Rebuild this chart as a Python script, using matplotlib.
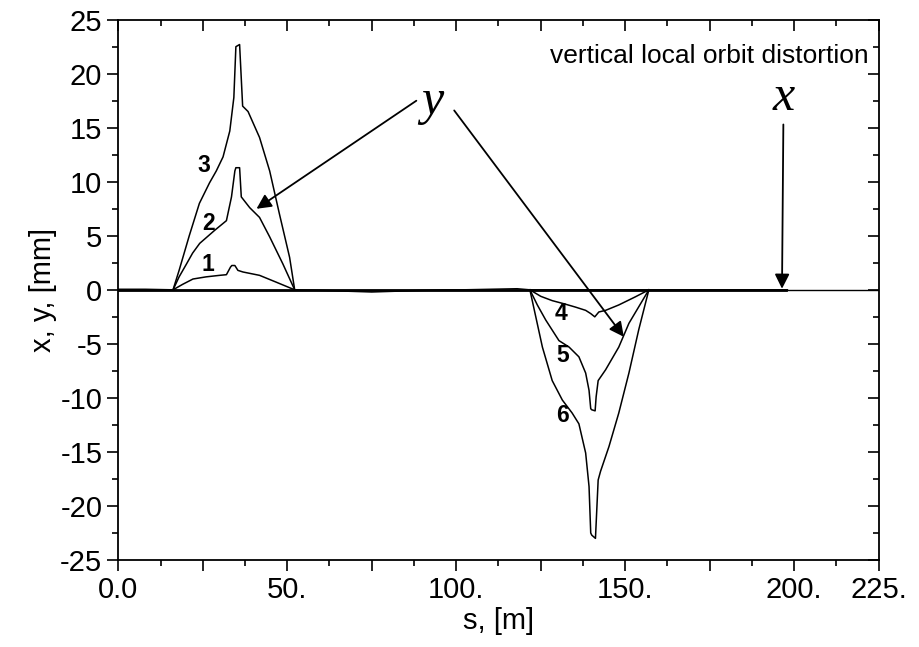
import matplotlib
matplotlib.use("Agg")
import matplotlib.pyplot as plt
from matplotlib.ticker import FixedLocator, FixedFormatter, MultipleLocator

plt.rcParams['font.family'] = ['Liberation Sans', 'DejaVu Sans']

# curve 1..3 (positive bumps)
s1 = [0, 8, 16.2, 19, 22.1, 26, 30, 32, 33.2, 33.6, 34.5, 35.4, 36.9, 41.8, 46.8, 52.2, 60, 75, 90, 97, 102, 110, 118, 121.8, 130, 160, 198]
y1 = [0.05, 0.05, 0.0, 0.5, 1.0, 1.2, 1.34, 1.4, 2.1, 2.25, 2.25, 1.8, 1.65, 1.34, 0.7, 0.0, -0.05, -0.2, -0.05, 0.0, 0.0, 0.05, 0.1, 0.0, 0.0, 0.0, 0.0]

s2 = [16.2, 18, 20.2, 22, 24.1, 28.5, 32, 33.5, 34.5, 34.8, 35.9, 36.4, 38.9, 41.8, 44.8, 48.7, 52.2]
y2 = [0.0, 1.2, 2.4, 3.4, 4.3, 5.5, 6.4, 8.6, 11.0, 11.3, 11.3, 8.6, 7.6, 6.7, 4.9, 2.4, 0.0]

s3 = [16.2, 18, 21, 24, 27, 29, 31, 33, 34.2, 34.8, 35.9, 36.8, 38.4, 41.8, 44.8, 47.7, 50.7, 52.2]
y3 = [0.0, 1.8, 5.0, 8.0, 9.9, 11.0, 12.3, 14.7, 17.8, 22.5, 22.7, 17.0, 16.5, 14.1, 11.0, 7.0, 3.0, 0.0]

# curve 4..6 (negative bumps)
s4 = [121.8, 125, 128.4, 132, 135.3, 138.3, 139.8, 141.0, 142.2, 144.2, 148.1, 153, 157]
y4 = [0.0, -0.6, -1.0, -1.3, -1.6, -1.9, -2.2, -2.5, -2.05, -1.9, -1.4, -0.65, 0.0]

s5 = [121.8, 124, 126.5, 130.4, 133.4, 136.3, 138.3, 139.3, 139.8, 140.1, 141.1, 141.4, 142, 144.2, 148.1, 151.1, 157]
y5 = [0.0, -1.4, -2.8, -4.7, -5.3, -6.2, -7.7, -9.3, -11.0, -11.1, -11.2, -9.9, -8.4, -7.4, -5.3, -3.1, 0.0]

s6 = [121.8, 125.5, 128.4, 131.4, 134.3, 136.3, 138.3, 139.3, 139.8, 140.1, 141.2, 142, 142.7, 145.2, 148.1, 151.1, 154, 157]
y6 = [0.0, -5.3, -8.4, -10.2, -11.4, -12.4, -15.1, -18.2, -22.5, -22.7, -23.0, -17.6, -16.8, -14.5, -11.4, -7.7, -3.7, 0.0]

# horizontal orbit (x)
sx = [0, 50, 100, 150, 197.7]
yx = [0.0, 0.0, 0.0, 0.0, 0.0]

xtick_pos = [0, 25, 50, 75, 100, 125, 150, 175, 200, 225]
xtick_lab = ['0.0', '', '50.', '', '100.', '', '150.', '', '200.', '225.']
ytick_pos = [25, 20, 15, 10, 5, 0, -5, -10, -15, -20, -25]
ytick_lab = ['25', '20', '15', '10', '5', '0', '-5', '-10', '-15', '-20', '-25']

curve_labels = ['1', '2', '3', '4', '5', '6']
label_s = [26.6, 26.6, 25.4, 130.9, 131.4, 131.4]
label_y = [2.3, 6.1, 11.5, -2.2, -6.1, -11.6]

fig = plt.figure(figsize=(9.19, 6.47), dpi=100)
ax = fig.add_axes([0.1287, 0.1345, 0.8274, 0.8351])

ax.axhline(0, color='black', lw=1.0, zorder=1)
ax.plot(sx, yx, color='black', lw=2.0, zorder=2)
for s, y in [(s1, y1), (s2, y2), (s3, y3), (s4, y4), (s5, y5), (s6, y6)]:
    ax.plot(s, y, color='black', lw=1.1, zorder=3)

for t, xs, ys in zip(curve_labels, label_s, label_y):
    ax.text(xs, ys, t, fontsize=16.5, fontweight='bold', ha='center', va='center')

ax.text(222, 21.6, 'vertical local orbit distortion', fontsize=19, ha='right', va='center')

ax.text(93.0, 17.4, 'y', fontsize=36, family=['Liberation Serif'], style='italic', ha='center', va='center')
ax.text(197.0, 17.8, 'x', fontsize=36, family=['Liberation Serif'], style='italic', ha='center', va='center')

aprops = dict(arrowstyle='-|>', color='black', lw=1.3, mutation_scale=22, shrinkA=0, shrinkB=0)
ax.annotate('', xy=(40.9, 7.5), xytext=(88.2, 17.5), arrowprops=aprops)
ax.annotate('', xy=(149.6, -4.35), xytext=(99.4, 16.6), arrowprops=aprops)
ax.annotate('', xy=(196.4, 0.1), xytext=(196.8, 15.3), arrowprops=aprops)

ax.set_xlim(0, 225)
ax.set_ylim(-25, 25)
ax.xaxis.set_major_locator(FixedLocator(xtick_pos))
ax.xaxis.set_major_formatter(FixedFormatter(xtick_lab))
ax.xaxis.set_minor_locator(MultipleLocator(12.5))
ax.yaxis.set_major_locator(FixedLocator(ytick_pos))
ax.yaxis.set_major_formatter(FixedFormatter(ytick_lab))
ax.yaxis.set_minor_locator(MultipleLocator(2.5))

ax.tick_params(axis='both', which='major', length=8, width=1.2, labelsize=21, direction='out')
ax.tick_params(axis='both', which='minor', length=4, width=1.2, direction='out')
ax.tick_params(axis='x', which='both', top=True)
ax.tick_params(axis='y', which='both', right=True)
# top/right ticks point inward
for t in ax.xaxis.get_major_ticks() + ax.xaxis.get_minor_ticks():
    t.tick2line.set_marker(matplotlib.lines.TICKDOWN)
for t in ax.yaxis.get_major_ticks() + ax.yaxis.get_minor_ticks():
    t.tick2line.set_marker(matplotlib.lines.TICKLEFT)

for sp in ax.spines.values():
    sp.set_linewidth(1.3)

ax.set_xlabel('s, [m]', fontsize=21, labelpad=2)
ax.set_ylabel('x, y, [mm]', fontsize=21, labelpad=2)

fig.savefig('out.png', dpi=100)
